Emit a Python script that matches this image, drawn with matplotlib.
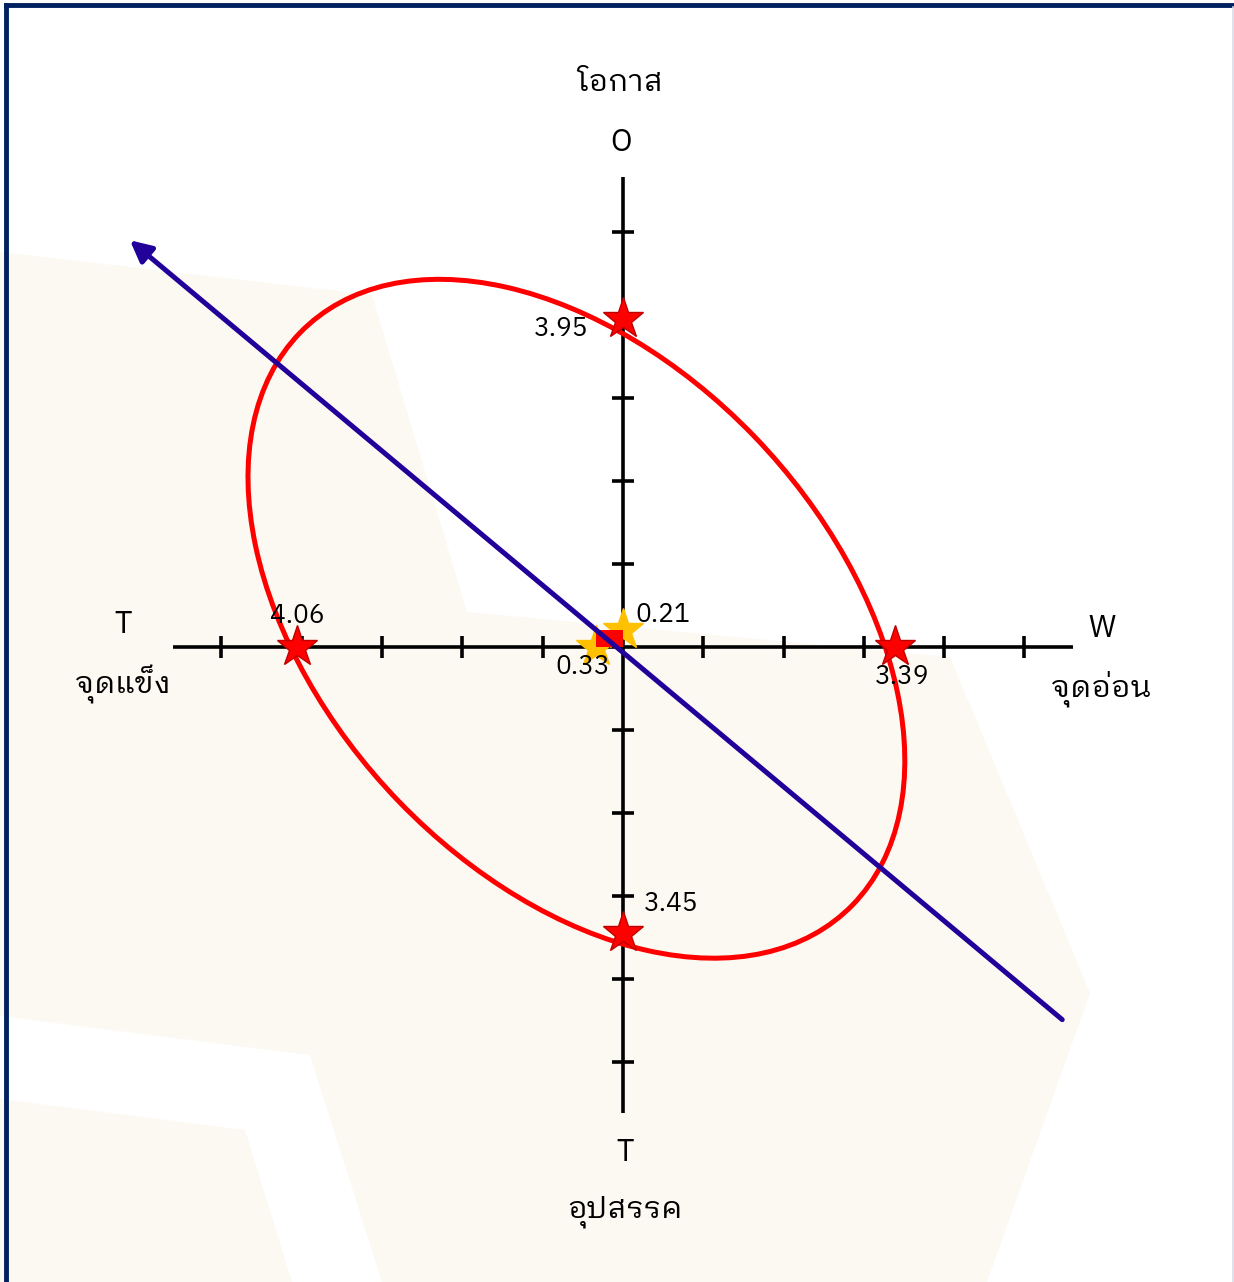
import numpy as np
import matplotlib
matplotlib.use("Agg")
import matplotlib.pyplot as plt
from matplotlib.patches import Ellipse, Polygon, Rectangle

plt.rcParams['font.family'] = ['IBM Plex Sans Thai Looped', 'DejaVu Sans']

# SWOT scores
axis_names = ["โอกาส", "จุดแข็ง", "จุดอ่อน", "อุปสรรค"]
axis_letters = ["O", "T", "W", "T"]
score_o = 3.95
score_s = 4.06
score_w = 3.39
score_t = 3.45
pos_x = -0.33   # strategy point, x
pos_y = 0.21    # strategy point, y
ticks = [-5, -4, -3, -2, -1, 1, 2, 3, 4, 5]

# ellipse around the scores (centre, semi axes, angle)
ell_center = (-0.58, 0.34)
ell_a = 4.87
ell_b = 3.12
ell_angle = -45

# strategy arrow
arrow_from = (5.47, -4.49)
arrow_to = (-6.14, 4.90)

red = '#ff0000'
gold = '#ffc000'
navy = '#22009a'
cream = '#fcf9f2'

fig = plt.figure(figsize=(12.34, 12.82), dpi=100)
ax = fig.add_axes([0, 0, 1, 1])
ax.set_xlim(-7.758, 7.609)
ax.set_ylim(-7.651, 7.795)
ax.axis('off')

# light background shapes (pixel outlines of the decoration)
def px(p):
    return ((p[0] - 623) / 80.3, (647 - p[1]) / 83.0)

bg1 = [(0, 252), (372, 295), (467, 612), (950, 657), (1090, 993), (987, 1282),
       (382, 1282), (310, 1055), (0, 1016)]
bg2 = [(0, 1099), (245, 1130), (292, 1282), (0, 1282)]
for shape in (bg1, bg2):
    ax.add_patch(Polygon([px(p) for p in shape], closed=True, fc=cream, ec='none', zorder=0))

# axes with ticks
ax.plot([-5.6, 5.6], [0, 0], color='black', lw=2.6, zorder=2, solid_capstyle='butt')
ax.plot([0, 0], [-5.62, 5.66], color='black', lw=2.6, zorder=2, solid_capstyle='butt')
ax.plot(ticks, [0] * len(ticks), ls='none', marker='|', ms=16, mew=2.6, color='black', zorder=2)
ax.plot([0] * len(ticks), ticks, ls='none', marker='_', ms=16, mew=2.6, color='black', zorder=2)

# ellipse
ax.add_patch(Ellipse(ell_center, 2 * ell_a, 2 * ell_b, angle=ell_angle,
                     fill=False, ec=red, lw=3.6, zorder=3))

# score stars
ax.plot([-score_s, score_w, 0, 0], [0, 0, score_o, -score_t], ls='none', marker='*',
        ms=31, mfc=red, mec='#c00000', mew=1, zorder=4)

# strategy point
ax.plot([pos_x, 0], [0, pos_y], ls='none', marker='*', ms=31, mfc=gold, mec=gold, zorder=4.5)
ax.add_patch(Rectangle((pos_x, 0), -pos_x, pos_y, fc=red, ec='none', zorder=5))

# arrow
ax.annotate('', xy=arrow_to, xytext=arrow_from,
            arrowprops=dict(arrowstyle='-|>', color=navy, lw=3.6, mutation_scale=32,
                            shrinkA=0, shrinkB=0), zorder=6)

# value labels
fs_val = 19
ax.text(-score_s, 0.38, f"{score_s:.2f}", fontsize=fs_val, ha='center', va='center', zorder=7)
ax.text(score_w + 0.09, -0.36, f"{score_w:.2f}", fontsize=fs_val, ha='center', va='center', zorder=7)
ax.text(-0.77, score_o - 0.11, f"{score_o:.2f}", fontsize=fs_val, ha='center', va='center', zorder=7)
ax.text(0.6, -score_t + 0.36, f"{score_t:.2f}", fontsize=fs_val, ha='center', va='center', zorder=7)
ax.text(0.5, 0.39, f"{pos_y:.2f}", fontsize=fs_val, ha='center', va='center', zorder=7)
ax.text(-0.5, -0.24, f"{-pos_x:.2f}", fontsize=fs_val, ha='center', va='center', zorder=7)

# axis names
fs_lab = 22
ax.text(-0.03, 6.08, axis_letters[0], fontsize=fs_lab, ha='center', va='center')
ax.text(-0.04, 6.81, axis_names[0], fontsize=fs_lab, ha='center', va='center')
ax.text(-6.23, 0.28, axis_letters[1], fontsize=fs_lab, ha='center', va='center')
ax.text(-6.23, -0.45, axis_names[1], fontsize=fs_lab, ha='center', va='center')
ax.text(5.96, 0.23, axis_letters[2], fontsize=fs_lab, ha='center', va='center')
ax.text(5.95, -0.5, axis_names[2], fontsize=fs_lab, ha='center', va='center')
ax.text(0.02, -6.08, axis_letters[3], fontsize=fs_lab, ha='center', va='center')
ax.text(0.02, -6.8, axis_names[3], fontsize=fs_lab, ha='center', va='center')

# frame of the slide
fig.add_artist(plt.Line2D([6 / 1234, 6 / 1234], [0, 1 - 5 / 1282], color='#002060', lw=3.5))
fig.add_artist(plt.Line2D([6 / 1234, 1], [1 - 5 / 1282, 1 - 5 / 1282], color='#002060', lw=3.5))
fig.add_artist(plt.Line2D([1232.5 / 1234, 1232.5 / 1234], [0, 1 - 7 / 1282], color='#dcdce8', lw=1.2))

fig.savefig('out.png', dpi=100, facecolor='white')
